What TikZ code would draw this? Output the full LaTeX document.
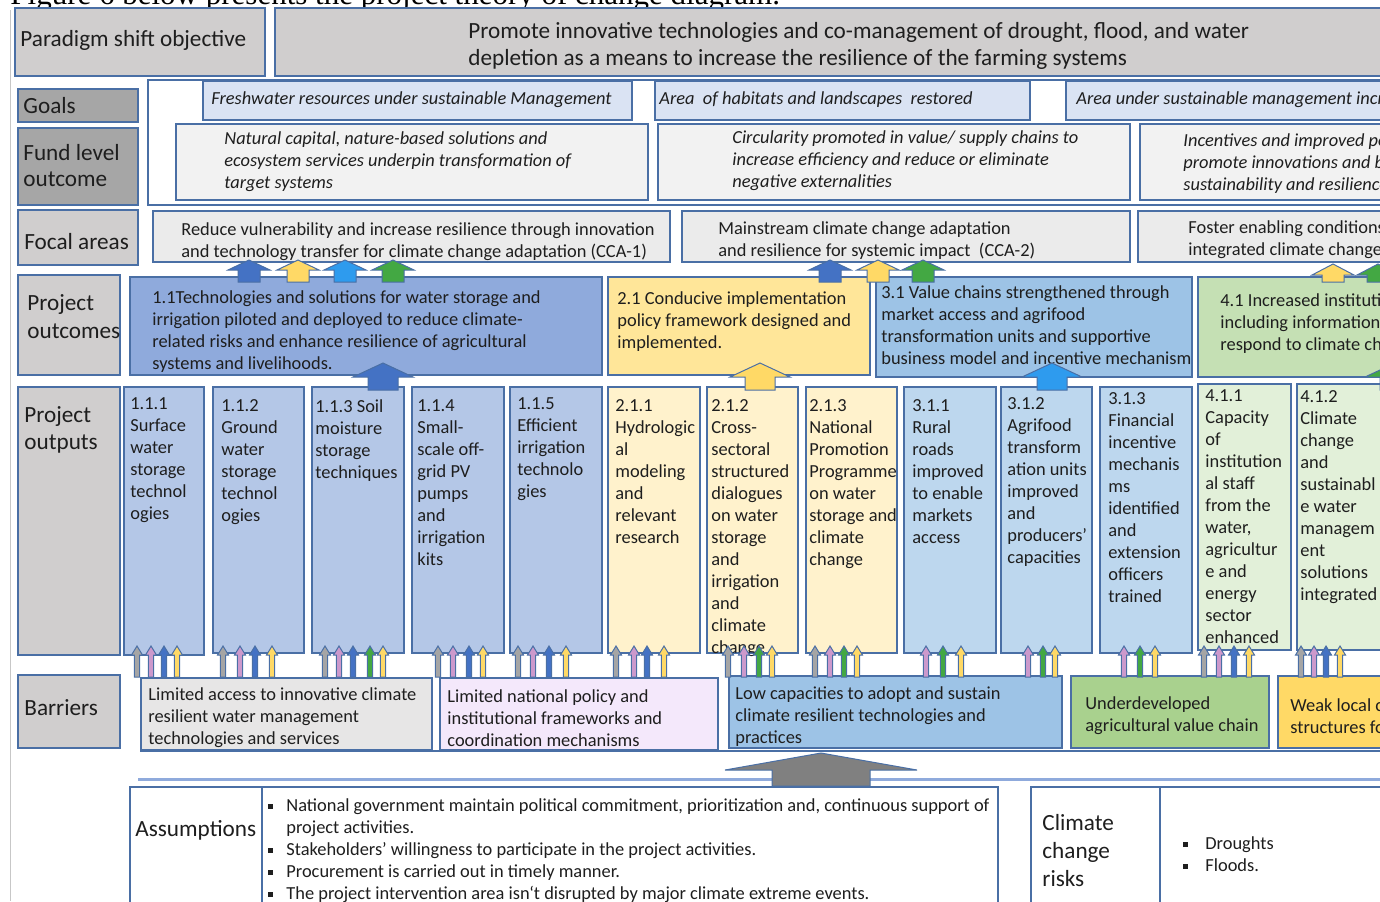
\documentclass[tikz,border=0pt]{standalone}
\usepackage{fontspec}
\setmainfont{Carlito}
\newfontfamily\docserif{Liberation Serif}
\usetikzlibrary{fit}

% colours
\definecolor{edge}{HTML}{4A6FA5}
\definecolor{ink}{HTML}{1E1E1E}
\definecolor{labgray}{HTML}{D0CECE}
\definecolor{labdark}{HTML}{A6A6A6}
\definecolor{goalblue}{HTML}{DAE3F3}
\definecolor{fundgray}{HTML}{F2F2F2}
\definecolor{focalgray}{HTML}{EBEBEB}
\definecolor{outc1}{HTML}{8FAADC}
\definecolor{outc2}{HTML}{FFE699}
\definecolor{outc3}{HTML}{9DC3E6}
\definecolor{outc4}{HTML}{C5E0B4}
\definecolor{outp1}{HTML}{B4C7E7}
\definecolor{outp2}{HTML}{FFF2CC}
\definecolor{outp3}{HTML}{BDD7EE}
\definecolor{outp4}{HTML}{E2F0D9}
\definecolor{barr1}{HTML}{E7E6E6}
\definecolor{barr2}{HTML}{F4E8FB}
\definecolor{barr3}{HTML}{9DC3E6}
\definecolor{barr4}{HTML}{A9D18E}
\definecolor{barr5}{HTML}{FFD966}
\definecolor{ablue}{HTML}{4472C4}
\definecolor{ayellow}{HTML}{FFD966}
\definecolor{alblue}{HTML}{2E9BEE}
\definecolor{agreen}{HTML}{43A843}
\definecolor{agray}{HTML}{A5A5A5}
\definecolor{apink}{HTML}{CC99CC}
\definecolor{abig}{HTML}{808080}
\definecolor{sepline}{HTML}{8FAADC}

% block arrow pointing up: fill, x, y bottom, y head, y tip, half shaft, half head
\newcommand\upblock[7]{%
  \filldraw[draw=edge, line width=0.5pt, fill=#1]
    ({#2-#6},#3) -- ({#2-#6},#4) -- ({#2-#7},#4) -- (#2,#5)
    -- ({#2+#7},#4) -- ({#2+#6},#4) -- ({#2+#6},#3) -- cycle;}
\newcommand\sqb{\rule[0.3ex]{2.4pt}{2.4pt}}

\begin{document}
\begin{tikzpicture}[x=0.5pt, y=-0.5pt,
  box/.style={draw=edge, line width=0.7pt, inner sep=0pt, outer sep=0pt},
  txt/.style={anchor=north west, inner sep=0pt, align=left, text=ink,
    font=\fontsize{9.2}{11}\selectfont},
  itxt/.style={txt, font=\fontsize{9.2}{11}\selectfont\itshape},
  lab/.style={txt, font=\fontsize{11.6}{13.5}\selectfont}]
\useasboundingbox (0,0) rectangle (1380,901);
\clip (0,0) rectangle (1380,901);

% page remains
\draw[black!22, line width=0.4pt] (10,10) -- (10,901);
\node[anchor=base west, inner sep=0pt, font=\docserif\fontsize{15.5}{18}\selectfont] (cap) at (10,4)
  {Figure 6 below presents the project theory of change diagram.};

% paradigm shift
\node[box, fill=labgray, fit={(15,8) (265,76)}] (psl) {};
\node[lab] (pslt) at (20,30) {Paradigm shift objective};
\node[box, fill=labgray, fit={(275,8) (1395,76)}] (pso) {};
\node[lab] (psot) at (468,22) {Promote innovative technologies and co-management of drought, flood, and water\\
  depletion as a means to increase the resilience of the farming systems};

% goals and fund level outcomes
\node[box, fill=white, fit={(148,80) (1395,205)}] (gfa) {};
\node[box, fill=labdark, fit={(18,89) (138,122)}] (gl) {};
\node[lab] (glt) at (23,97) {Goals};
\node[box, fill=labdark, fit={(18,128) (138,205)}] (fl) {};
\node[lab, font=\fontsize{11.6}{13}\selectfont] (flt) at (23,144) {Fund level\\outcome};

\node[box, fill=goalblue, fit={(203,81) (632,120)}] (g1) {};
\node[itxt] (g1t) at (211,91) {Freshwater resources under sustainable Management};
\node[box, fill=goalblue, fit={(655,81) (1030,120)}] (g2) {};
\node[itxt] (g2t) at (659,91) {Area~ of habitats and landscapes~ restored};
\node[box, fill=goalblue, fit={(1066,81) (1395,120)}] (g3) {};
\node[itxt] (g3t) at (1076,91) {Area under sustainable management incr};

\node[box, fill=fundgray, fit={(176,124) (648,200)}] (f1) {};
\node[itxt] (f1t) at (224,131) {Natural capital, nature-based solutions and\\
  ecosystem services underpin transformation of\\target systems};
\node[box, fill=fundgray, fit={(658,124) (1130,200)}] (f2) {};
\node[itxt] (f2t) at (732,130) {Circularity promoted in value/ supply chains to\\
  increase efficiency and reduce or eliminate\\negative externalities};
\node[box, fill=fundgray, fit={(1140,124) (1395,200)}] (f3) {};
\node[itxt] (f3t) at (1183,133) {Incentives and improved po\\promote innovations and b\\sustainability and resilience};

% focal areas
\node[box, fill=labgray, fit={(18,210) (138,265)}] (fal) {};
\node[lab] (falt) at (24,233) {Focal areas};
\node[box, fill=focalgray, fit={(153,211) (670,262)}] (fa1) {};
\node[txt] (fa1t) at (181,222) {Reduce vulnerability and increase resilience through innovation\\
  and technology transfer for climate change adaptation (CCA-1)};
\node[box, fill=focalgray, fit={(682,211) (1130,262)}] (fa2) {};
\node[txt] (fa2t) at (718,221) {Mainstream climate change adaptation\\
  and resilience for systemic impact~ (CCA-2)};
\node[box, fill=focalgray, fit={(1138,211) (1395,262)}] (fa3) {};
\node[txt] (fa3t) at (1188,220) {Foster enabling conditions\\integrated climate change};

% project outcomes
\node[box, fill=labgray, fit={(18,275) (120,375)}] (ocl) {};
\node[lab, font=\fontsize{11.6}{14}\selectfont] (oclt) at (27,294) {Project\\outcomes};
\node[box, fill=outc1, fit={(130,277) (602,375)}] (o1) {};
\node[txt] (o1t) at (152,290) {1.1Technologies and solutions for water storage and\\
  irrigation piloted and deployed to reduce climate-\\
  related risks and enhance resilience of agricultural\\systems and livelihoods.};
\node[box, fill=outc2, fit={(608,277) (870,375)}] (o2) {};
\node[txt] (o2t) at (617,291) {2.1 Conducive implementation\\policy framework designed and\\implemented.};
\node[box, fill=outc3, fit={(876,277) (1192,377)}] (o3) {};
\node[txt] (o3t) at (881,285) {3.1 Value chains strengthened through\\market access and agrifood\\
  transformation units and supportive\\business model and incentive mechanism};
\node[box, fill=outc4, fit={(1198,277) (1395,377)}] (o4) {};
\node[txt] (o4t) at (1220,293) {4.1 Increased instituti\\including information\\respond to climate ch};

% project outputs
\node[box, fill=labgray, fit={(18,387) (120,655)}] (opl) {};
\node[lab] (oplt) at (24,406) {Project\\outputs};
\node[box, fill=outp1, fit={(124,387) (204,655)}] (p111) {};
\node[txt] (p111t) at (130,397) {1.1.1\\Surface\\water\\storage\\technol\\ogies};
\node[box, fill=outp1, fit={(213,387) (304,653)}] (p112) {};
\node[txt] (p112t) at (221,399) {1.1.2\\Ground\\water\\storage\\technol\\ogies};
\node[box, fill=outp1, fit={(312,387) (404,653)}] (p113) {};
\node[txt] (p113t) at (315,399) {1.1.3 Soil\\moisture\\storage\\techniques};
\node[box, fill=outp1, fit={(412,387) (504,653)}] (p114) {};
\node[txt] (p114t) at (417,399) {1.1.4\\Small-\\scale off-\\grid PV\\pumps\\and\\irrigation\\kits};
\node[box, fill=outp1, fit={(510,387) (602,653)}] (p115) {};
\node[txt] (p115t) at (517,397) {1.1.5\\Efficient\\irrigation\\technolo\\gies};
\node[box, fill=outp2, fit={(608,387) (700,653)}] (p211) {};
\node[txt] (p211t) at (615,399) {2.1.1\\Hydrologic\\al\\modeling\\and\\relevant\\research};
\node[box, fill=outp2, fit={(707,387) (798,653)}] (p212) {};
\node[txt] (p212t) at (711,399) {2.1.2\\Cross-\\sectoral\\structured\\dialogues\\on water\\storage\\and\\irrigation\\and\\climate\\change};
\node[box, fill=outp2, fit={(806,387) (897,653)}] (p213) {};
\node[txt] (p213t) at (809,399) {2.1.3\\National\\Promotion\\Programme\\on water\\storage and\\climate\\change};
\node[box, fill=outp3, fit={(904,387) (996,653)}] (p311) {};
\node[txt] (p311t) at (912,399) {3.1.1\\Rural\\roads\\improved\\to enable\\markets\\access};
\node[box, fill=outp3, fit={(1001,387) (1092,653)}] (p312) {};
\node[txt] (p312t) at (1007,397) {3.1.2\\Agrifood\\transform\\ation units\\improved\\and\\producers’\\capacities};
\node[box, fill=outp3, fit={(1100,387) (1192,653)}] (p313) {};
\node[txt] (p313t) at (1108,392) {3.1.3\\Financial\\incentive\\mechanis\\ms\\identified\\and\\extension\\officers\\trained};
\node[box, fill=outp4, fit={(1198,384) (1291,650)}] (p411) {};
\node[txt] (p411t) at (1205,389) {4.1.1\\Capacity\\of\\institution\\al staff\\from the\\water,\\agricultur\\e and\\energy\\sector\\enhanced};
\node[box, fill=outp4, fit={(1297,384) (1395,650)}] (p412) {};
\node[txt] (p412t) at (1300,390) {4.1.2\\Climate\\change\\and\\sustainabl\\e water\\managem\\ent\\solutions\\integrated};

% arrows focal areas <- outcomes
\foreach \x/\c in {249/ablue,298/ayellow,345/alblue,393/agreen,830/ablue,878/ayellow,923/agreen}
  \upblock{\c}{\x}{282}{270}{260}{11}{21};
\foreach \x/\c in {1333/ayellow,1378/agreen}
  \upblock{\c}{\x}{282}{275}{264}{11}{21};

% arrows outcomes <- outputs
\foreach \x/\c in {383/ablue,760/ayellow,1052/alblue,1395/agreen}
  \upblock{\c}{\x}{390}{377}{363}{15}{30};

% barriers
\draw[edge, line width=0.8pt] (140,751) -- (1395,751);
\draw[sepline, line width=1.5pt] (138,779) -- (1395,779);
\node[box, fill=labgray, fit={(18,675) (120,748)}] (bl) {};
\node[lab] (blt) at (24,699) {Barriers};
\node[box, fill=barr1, fit={(141,678) (432,750)}] (b1) {};
\node[txt] (b1t) at (148,687) {Limited access to innovative climate\\resilient water management\\technologies and services};
\node[box, fill=barr2, fit={(440,678) (718,750)}] (b2) {};
\node[txt] (b2t) at (447,689) {Limited national policy and\\institutional frameworks and\\coordination mechanisms};
\node[box, fill=barr3, fit={(729,676) (1062,748)}] (b3) {};
\node[txt] (b3t) at (735,686) {Low capacities to adopt and sustain\\climate resilient technologies and\\practices};
\node[box, fill=barr4, fit={(1071,676) (1269,748)}] (b4) {};
\node[txt] (b4t) at (1085,696) {Underdeveloped\\agricultural value chain};
\node[box, fill=barr5, fit={(1278,676) (1395,748)}] (b5) {};
\node[txt] (b5t) at (1290,698) {Weak local c\\structures fo};

% small arrows outputs <- barriers
\foreach \x/\c in {137/agray,151/apink,164/ablue,177/ayellow,
    223/agray,240/apink,255/ablue,272/ayellow,
    325/agray,339/apink,353/ablue,370/agreen,383/ayellow,
    438/agray,453/apink,469/ablue,483/ayellow,
    518/agray,533/apink,549/ablue,566/ayellow,
    616/agray,634/apink,647/ablue,664/ayellow,
    728/agray,744/apink,759/agreen,772/ayellow,
    815/agray,830/apink,844/agreen,857/ayellow,
    926/apink,943/agreen,961/ayellow,
    1028/apink,1043/agreen,1055/ayellow,
    1124/apink,1140/agreen,1155/ayellow,
    1204/agray,1219/apink,1234/ablue,1249/ayellow,
    1301/agray,1314/apink,1326/ablue,1340/ayellow}
  \upblock{\c}{\x}{677}{655}{646}{2.6}{5.5};

% assumptions -> barriers
\upblock{abig}{821}{786}{770}{753}{49}{96}

% assumptions and risks
\node[box, fill=white, fit={(130,787) (262,915)}] (asl) {};
\node[lab, font=\fontsize{11.6}{14}\selectfont] (aslt) at (135,820) {Assumptions};
\node[box, fill=white, fit={(262,787) (998,915)}] (asb) {};
\node[txt] (asbt) at (268,798) {\makebox[9pt][l]{\sqb}National government maintain political commitment, prioritization and, continuous support of\\
  \hspace*{9pt}project activities.\\
  \makebox[9pt][l]{\sqb}Stakeholders’ willingness to participate in the project activities.\\
  \makebox[9pt][l]{\sqb}Procurement is carried out in timely manner.\\
  \makebox[9pt][l]{\sqb}The project intervention area isn`t disrupted by major climate extreme events.};
\node[box, fill=white, fit={(1031,787) (1160,915)}] (crl) {};
\node[lab, font=\fontsize{11.6}{14}\selectfont] (crlt) at (1042,814) {Climate\\change\\risks};
\node[box, fill=white, fit={(1160,787) (1395,915)}] (crb) {};
\node[txt] (crbt) at (1183,836) {\makebox[11pt][l]{\sqb}Droughts\\\makebox[11pt][l]{\sqb}Floods.};
\end{tikzpicture}
\end{document}
